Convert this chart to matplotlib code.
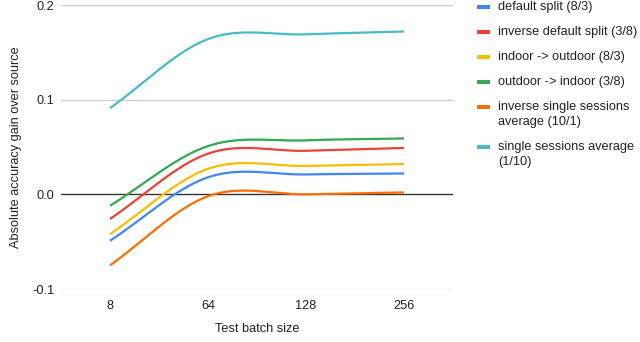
import matplotlib
matplotlib.use('Agg')
import matplotlib.pyplot as plt
from matplotlib.patches import Rectangle
import numpy as np

# test batch sizes (categorical x axis)
batch_sizes = ['8', '64', '128', '256']

# series, in legend order
series_names = ['default split (8/3)',
                'inverse default split (3/8)',
                'indoor -> outdoor (8/3)',
                'outdoor -> indoor (3/8)',
                'inverse single sessions\naverage (10/1)',
                'single sessions average\n(1/10)']
default_split = [-0.049, 0.018, 0.021, 0.022]
inverse_default_split = [-0.026, 0.043, 0.046, 0.049]
indoor_outdoor = [-0.042, 0.027, 0.030, 0.032]
outdoor_indoor = [-0.012, 0.051, 0.057, 0.059]
inverse_single_sessions = [-0.075, -0.002, 0.000, 0.002]
single_sessions = [0.091, 0.164, 0.169, 0.172]
series_values = [default_split, inverse_default_split, indoor_outdoor,
                 outdoor_indoor, inverse_single_sessions, single_sessions]
colors = ['#4285F4', '#EA4335', '#FBBC04', '#34A853', '#FF6D01', '#46BDC6']

y_ticks = [-0.1, 0.0, 0.1, 0.2]
y_tick_labels = ['-0.1', '0.0', '0.1', '0.2']

FS = 9.2


def smooth(vals, n=60):
    # cubic hermite (catmull-rom style) like google sheets smooth lines
    p = np.asarray(vals, dtype=float)
    k = len(p)
    m = np.zeros(k)
    m[0] = p[1] - p[0]
    m[-1] = p[-1] - p[-2]
    m[1:-1] = (p[2:] - p[:-2]) / 2
    xs, ys = [], []
    for i in range(k - 1):
        t = np.linspace(0, 1, n, endpoint=(i == k - 2))
        h00 = 2 * t**3 - 3 * t**2 + 1
        h10 = t**3 - 2 * t**2 + t
        h01 = -2 * t**3 + 3 * t**2
        h11 = t**3 - t**2
        xs.append(i + t)
        ys.append(h00 * p[i] + h10 * m[i] + h01 * p[i + 1] + h11 * m[i + 1])
    return np.concatenate(xs), np.concatenate(ys)


plt.rcParams['font.family'] = ['Liberation Sans', 'DejaVu Sans']
fig = plt.figure(figsize=(6.4, 3.42), dpi=100)
ax = fig.add_axes([61 / 640, 53 / 342, 392 / 640, 284 / 342])

for vals, c in zip(series_values, colors):
    x, y = smooth(vals)
    ax.plot(x, y, color=c, lw=1.6, solid_capstyle='butt', zorder=3)

ax.set_xlim(-0.5, 3.5)
ax.set_ylim(-0.1, 0.2)
ax.set_xticks(range(len(batch_sizes)))
ax.set_xticklabels(batch_sizes)
ax.set_yticks(y_ticks)
ax.set_yticklabels(y_tick_labels)
for yv in y_ticks:
    if yv == 0:
        ax.axhline(yv, color='#333333', lw=1, zorder=2)
    else:
        ax.axhline(yv, color='#cccccc', lw=1, zorder=1)
for s in ax.spines.values():
    s.set_visible(False)
ax.tick_params(axis='both', length=0, labelsize=FS, labelcolor='#222222')
ax.tick_params(axis='y', pad=5)
ax.tick_params(axis='x', pad=8)
ax.set_xlabel('Test batch size', fontsize=FS, color='#222222', labelpad=8)
ax.set_ylabel('Absolute accuracy gain over source', fontsize=FS,
              color='#222222', labelpad=7)

# legend drawn by hand to follow the google sheets layout
ypix = 7
for name, c in zip(series_names, colors):
    fig.patches.append(Rectangle((477 / 640, 1 - (ypix + 2) / 342), 13 / 640, 4 / 342,
                                 transform=fig.transFigure, color=c, lw=0))
    fig.text(498 / 640, 1 - ypix / 342, name, fontsize=FS, color='#222222',
             va='center', ha='left', linespacing=1.3)
    lines = name.count('\n')
    if lines:
        fig.texts[-1].set_va('top')
        fig.texts[-1].set_y(1 - (ypix - 6) / 342)
    ypix += 25 + 15 * lines

fig.savefig('out.png', dpi=100)
